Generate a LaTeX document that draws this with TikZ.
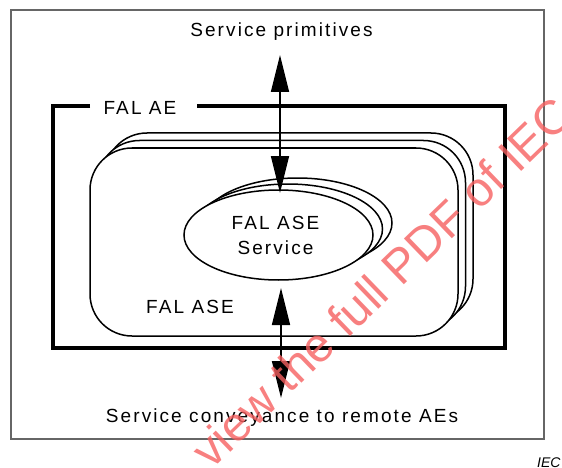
\documentclass[tikz,border=0pt]{standalone}
\usepackage{fontspec}
\setmainfont{Liberation Sans}
\newfontfamily\lblfont{Liberation Sans}[LetterSpace=11]
\newfontfamily\wmfont{Liberation Sans}
\usetikzlibrary{arrows.meta,shapes.geometric}
\definecolor{wmred}{RGB}{246,96,96}
\begin{document}
\begin{tikzpicture}[x=1pt,y=-1pt,
  lbltext/.style={font=\lblfont\fontsize{19}{24}\selectfont, inner sep=0pt, anchor=base, text=black},
  oval/.style={ellipse, draw, line width=1.5pt, fill=white, minimum width=189pt, minimum height=90pt, inner sep=0pt},
  rrect/.style={rectangle, draw, line width=1.5pt, fill=white, rounded corners=42pt, minimum width=368pt, minimum height=188pt, inner sep=0pt},
  dblarrow/.style={line width=1.5pt, {Triangle[length=37pt,width=18pt]}-{Triangle[length=37pt,width=18pt]}},
  thickframe/.style={line width=4pt},
  outerframe/.style={line width=1.5pt, draw=black!60},
]
\useasboundingbox (0,0) rectangle (562,468);
\clip (0,0) rectangle (562,468);
% outer frame
\draw[outerframe] (11,10) rectangle (544,439);
% FAL AE frame
\node[lbltext] (ae) at (140,115) {FAL AE};
\coordinate (gapL) at (90,106);
\coordinate (gapR) at (197,106);
\draw[thickframe] (gapL) -- (53,106) -- (53,348) -- (505,348) -- (505,106) -- (gapR);
% FAL ASE stacked rounded boxes
\node[rrect] (aseB2) at (289,227) {};
\node[rrect] (aseB1) at (281.5,234.5) {};
\node[rrect] (aseF) at (274,242) {};
\node[lbltext] (ase) at (190,313) {FAL ASE};
% stacked service ellipses
\node[oval] (ovalB2) at (297.5,223) {};
\node[oval] (ovalB1) at (288,229) {};
\node[oval] (ovalF) at (278.5,235) {};
\node[lbltext] (svc1) at (275.5,229) {FAL ASE};
\node[lbltext] (svc2) at (275.5,254) {Service};
% top and bottom labels
\node[lbltext] (prim) at (281.5,37) {Service primitives};
\node[lbltext] (conv) at (282,422) {Service conveyance to remote AEs};
% arrows
\coordinate (upT) at (280,55);
\coordinate (upB) at (280,193);
\coordinate (loT) at (281,288);
\coordinate (loB) at (281,398);
\draw[dblarrow] (upT) -- (upB);
\draw[dblarrow] (loT) -- (loB);
% watermark
\node[font=\wmfont\fontsize{48}{52}\selectfont, text=wmred, text opacity=0.8, anchor=base west, rotate=44, inner sep=0pt] (wmark) at (211,471) {view the full PDF of IEC};
% IEC mark
\node[font=\wmfont\itshape\fontsize{14}{16}\selectfont, anchor=base west, inner sep=0pt] (iec) at (537,467) {IEC};
\end{tikzpicture}
\end{document}
